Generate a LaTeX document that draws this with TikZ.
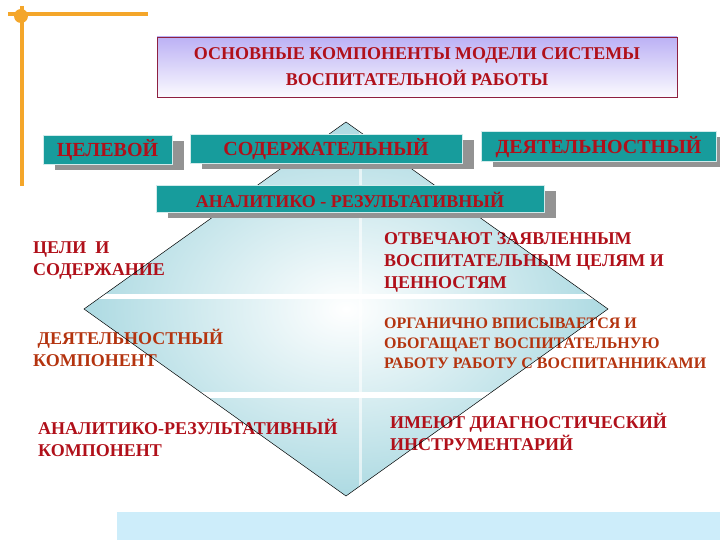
\documentclass[tikz,border=0pt]{standalone}
\usepackage{fontspec}
\setmainfont{Liberation Serif}
\usetikzlibrary{shadows}
\definecolor{tealbox}{HTML}{179C9C}
\definecolor{darkred}{HTML}{B0101A}
\definecolor{rust}{HTML}{B4340F}
\definecolor{lavender}{HTML}{9C8CF0}
\definecolor{framered}{HTML}{8E2040}
\definecolor{icefill}{HTML}{ADDAE2}
\definecolor{skyband}{HTML}{CDEDFA}
\definecolor{orangeline}{HTML}{F4A62A}
\pgfdeclareverticalshading{titlefade}{100bp}{color(0bp)=(lavender!55); color(22bp)=(white); color(100bp)=(lavender)}

\tikzset{
  compbox/.style={fill=tealbox, draw=white!80!tealbox, line width=1pt, text=darkred,
    font=\bfseries\fontsize{20}{20}\selectfont, inner sep=0pt,
    general shadow={fill=gray!85, draw=none, shadow xshift=12pt, shadow yshift=-5pt}},
  bodytext/.style={anchor=west, align=left, inner sep=0pt, text=darkred,
    font=\bfseries\fontsize{18}{22}\selectfont},
}

\begin{document}
\begin{tikzpicture}[x=1pt, y=-1pt]
  \useasboundingbox (0,0) rectangle (720,540);
  % corner ornament
  \draw[orangeline, line width=3.5pt] (8,14) -- (148,14);
  \draw[orangeline, line width=3.5pt] (22,6) -- (22,186);
  \fill[orangeline] (21,16) circle (7);

  % title
  \node[draw=framered, line width=0.8pt, shading=titlefade, minimum width=520, minimum height=60,
    align=center, text=darkred, font=\bfseries\fontsize{18}{26}\selectfont] (title) at (417,67)
    {ОСНОВНЫЕ КОМПОНЕНТЫ МОДЕЛИ СИСТЕМЫ\\ВОСПИТАТЕЛЬНОЙ РАБОТЫ};

  % diamond
  \coordinate (dtop) at (346,122);
  \coordinate (drgt) at (608,309);
  \coordinate (dbot) at (346,496);
  \coordinate (dlft) at (84,309);
  \begin{scope}
    \clip (dtop) -- (drgt) -- (dbot) -- (dlft) -- cycle;
    \shade[inner color=white, outer color=icefill] (84,122) rectangle (608,496);
    \fill[white] (84,294) rectangle (608,299);
    \fill[white] (84,392) rectangle (608,398);
    \fill[white, opacity=0.6] (359,122) rectangle (362,496);
  \end{scope}

  % texts
  \node[bodytext] (goals) at (33,261) {ЦЕЛИ~~И\\СОДЕРЖАНИЕ};
  \node[bodytext, text=rust] (actcomp) at (33,348) {~ДЕЯТЕЛЬНОСТНЫЙ\\КОМПОНЕНТ};
  \node[bodytext] (ancomp) at (38,438) {АНАЛИТИКО-РЕЗУЛЬТАТИВНЫЙ\\КОМПОНЕНТ};
  \node[bodytext] (answer) at (384,262) {ОТВЕЧАЮТ ЗАЯВЛЕННЫМ\\ВОСПИТАТЕЛЬНЫМ ЦЕЛЯМ И\\ЦЕННОСТЯМ};
  \node[bodytext, text=rust, font=\bfseries\fontsize{16}{20}\selectfont] (fits) at (384,343)
    {ОРГАНИЧНО ВПИСЫВАЕТСЯ И\\ОБОГАЩАЕТ ВОСПИТАТЕЛЬНУЮ\\РАБОТУ РАБОТУ С ВОСПИТАННИКАМИ};
  \node[bodytext] (tools) at (390,432) {ИМЕЮТ ДИАГНОСТИЧЕСКИЙ\\ИНСТРУМЕНТАРИЙ};

  \draw[line width=0.5pt] (dtop) -- (drgt) -- (dbot) -- (dlft) -- cycle;

  % component boxes
  \node[compbox, minimum width=129, minimum height=29] (target) at (107.5,150.5) {ЦЕЛЕВОЙ};
  \node[compbox, minimum width=272, minimum height=29] (content) at (326,149.5) {СОДЕРЖАТЕЛЬНЫЙ};
  \node[compbox, minimum width=235, minimum height=30] (activity) at (598.5,147) {ДЕЯТЕЛЬНОСТНЫЙ};
  \node[compbox, minimum width=388, minimum height=27, font=\bfseries\fontsize{18}{18}\selectfont]
    (analytic) at (350,199.5) {АНАЛИТИКО - РЕЗУЛЬТАТИВНЫЙ};

  % bottom band
  \fill[skyband] (117,512) rectangle (720,540);
\end{tikzpicture}
\end{document}
